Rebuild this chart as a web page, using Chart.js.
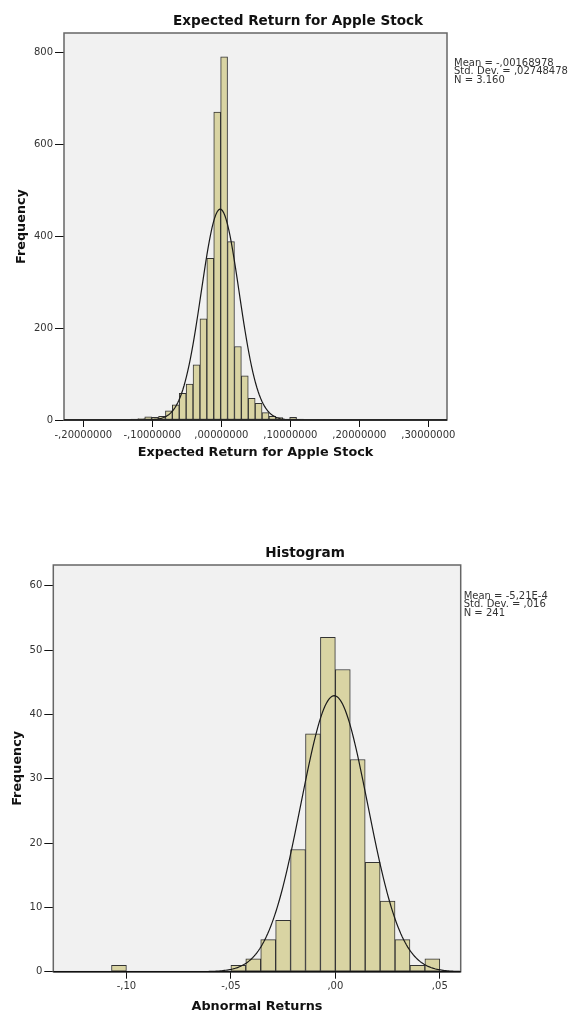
<!DOCTYPE html>
<html>
<head>
<meta charset="utf-8">
<script src="https://cdn.jsdelivr.net/npm/chart.js@4.4.1/dist/chart.umd.min.js"></script>
<style>
  html, body { margin: 0; padding: 0; background: #fff; }
  .wrap { position: absolute; left: 0; width: 568px; }
  #top-wrap { top: 0; height: 470px; }
  #bottom-wrap { top: 535px; height: 478px; }
</style>
</head>
<body>
<div class="wrap" id="top-wrap"><canvas id="apple" width="568" height="470"></canvas></div>
<div class="wrap" id="bottom-wrap"><canvas id="abnormal" width="568" height="478"></canvas></div>
<script>
// Expected Return for Apple Stock (bins of ,01)
const appleBins = [
  -0.156, -0.146, -0.136, -0.126, -0.116, -0.106, -0.096, -0.086, -0.076, -0.066,
  -0.056, -0.046, -0.036, -0.026, -0.016, -0.006, 0.004, 0.014, 0.024, 0.034,
  0.044, 0.054, 0.064, 0.074, 0.084, 0.094, 0.104, 0.114, 0.124, 0.134,
  0.144, 0.154, 0.164, 0.174, 0.184, 0.194, 0.204, 0.214, 0.224, 0.234, 0.244
]
const appleCounts = [
  1, 0, 1, 2, 3, 7, 6, 8, 20, 33,
  58, 78, 120, 220, 352, 670, 790, 388, 160, 96,
  47, 36, 16, 8, 5, 2, 6, 2, 0, 0,
  1, 1, 0, 0, 1, 0, 0, 0, 0, 0, 1
]
const appleTicksX = [-0.2, -0.1, 0, 0.1, 0.2, 0.3]
const appleTickLabelsX = ["-,20000000", "-,10000000", ",00000000", ",10000000", ",20000000", ",30000000"]
const appleTicksY = [0, 200, 400, 600, 800]
const appleStats = ["Mean = -,00168978", "Std. Dev. = ,02748478", "N = 3.160"]
const appleFit = { mean: -0.00168978, sd: 0.02748478, n: 3160, binWidth: 0.01 }

// Abnormal Returns (bins of ,05/7)
const abnormalBins = [
  -0.10357, -0.09643, -0.08929, -0.08214, -0.07500, -0.06786, -0.06071, -0.05357,
  -0.04643, -0.03929, -0.03214, -0.02500, -0.01786, -0.01071, -0.00357,
  0.00357, 0.01071, 0.01786, 0.02500, 0.03214, 0.03929, 0.04643
]
const abnormalCounts = [
  1, 0, 0, 0, 0, 0, 0, 0,
  1, 2, 5, 8, 19, 37, 52,
  47, 33, 17, 11, 5, 1, 2
]
const abnormalTicksX = [-0.10, -0.05, 0, 0.05]
const abnormalTickLabelsX = ["-,10", "-,05", ",00", ",05"]
const abnormalTicksY = [0, 10, 20, 30, 40, 50, 60]
const abnormalStats = ["Mean = -5,21E-4", "Std. Dev. = ,016", "N = 241"]
const abnormalFit = { mean: -0.000521, sd: 0.016, n: 241, binWidth: 0.05 / 7 }

Chart.defaults.font.family = "'DejaVu Sans', sans-serif"

// normal curve that SPSS lays over the histogram
function normalCurve(fit, min, max) {
  const pts = []
  const steps = 300
  for (let i = 0; i <= steps; i++) {
    const x = min + (max - min) * i / steps
    const z = (x - fit.mean) / fit.sd
    pts.push({ x, y: fit.n * fit.binWidth * Math.exp(-z * z / 2) / (fit.sd * Math.sqrt(2 * Math.PI)) })
  }
  return pts
}

// plot background, frame, chart title and the stats box on the right
const spssDecor = {
  id: "spssDecor",
  beforeDraw(chart, args, opts) {
    const { ctx, chartArea: a } = chart
    ctx.save()
    ctx.fillStyle = "#f1f1f1"
    ctx.fillRect(a.left, a.top, a.right - a.left, a.bottom - a.top)
    ctx.restore()
  },
  afterDraw(chart, args, opts) {
    const { ctx, chartArea: a } = chart
    ctx.save()
    ctx.strokeStyle = "#666"
    ctx.lineWidth = 1.5
    ctx.strokeRect(a.left, a.top, a.right - a.left, a.bottom - a.top)
    ctx.strokeStyle = "#111"
    ctx.beginPath()
    ctx.moveTo(a.left, a.bottom)
    ctx.lineTo(a.right, a.bottom)
    ctx.stroke()

    ctx.fillStyle = "#111"
    ctx.font = "bold 13.6px 'DejaVu Sans'"
    ctx.textAlign = "center"
    ctx.textBaseline = "middle"
    ctx.fillText(opts.title, opts.titleX, opts.titleY)

    ctx.fillStyle = "#333"
    ctx.font = "10px 'DejaVu Sans'"
    ctx.textAlign = "left"
    opts.stats.forEach((line, i) => ctx.fillText(line, a.right + opts.statsDx, opts.statsY + i * 8.8))
    ctx.restore()
  }
}

function histogram(canvasId, h) {
  return new Chart(document.getElementById(canvasId), {
    type: "bar",
    data: {
      datasets: [
        {
          type: "line",
          data: normalCurve(h.fit, h.xMin, h.xMax),
          borderColor: "#1a1a1a",
          borderWidth: 1.2,
          pointRadius: 0,
          tension: 0,
          order: 1
        },
        {
          data: h.bins.map((x, i) => ({ x, y: h.counts[i] })),
          backgroundColor: "#d9d4a3",
          borderColor: "#333",
          borderWidth: 1,
          borderSkipped: false,
          barPercentage: 1,
          categoryPercentage: 1,
          order: 2
        }
      ]
    },
    options: {
      responsive: false,
      animation: false,
      devicePixelRatio: 1,
      layout: { padding: { top: h.top, right: h.right, left: 0, bottom: 0 } },
      plugins: {
        legend: { display: false },
        tooltip: { enabled: false },
        spssDecor: h.decor
      },
      scales: {
        x: {
          type: "linear",
          offset: false,
          min: h.xMin,
          max: h.xMax,
          afterBuildTicks: s => { s.ticks = h.ticksX.map(v => ({ value: v })) },
          afterFit: s => { s.height = h.xHeight },
          ticks: {
            callback: (v, i) => h.labelsX[i],
            autoSkip: false,
            maxRotation: 0,
            padding: 2,
            color: "#333",
            font: { size: 10 }
          },
          grid: { offset: false, drawOnChartArea: false, tickLength: 7, tickColor: "#111", color: "#111" },
          border: { display: false },
          title: {
            display: true,
            text: h.xTitle,
            color: "#111",
            font: { size: 12.8, weight: "bold", lineHeight: 1 },
            padding: { top: 0, bottom: h.xTitlePad }
          }
        },
        y: {
          min: 0,
          max: h.yMax,
          afterBuildTicks: s => { s.ticks = h.ticksY.map(v => ({ value: v })) },
          afterFit: s => { s.width = h.yWidth },
          ticks: { padding: 2, color: "#333", font: { size: 10 } },
          grid: { drawOnChartArea: false, tickLength: 9, tickColor: "#111", color: "#111" },
          border: { display: false },
          title: {
            display: true,
            text: "Frequency",
            color: "#111",
            font: { size: 12.8, weight: "bold", lineHeight: 1 },
            padding: { top: h.yTitlePad, bottom: 0 }
          }
        }
      }
    },
    plugins: [spssDecor]
  })
}

histogram("apple", {
  bins: appleBins, counts: appleCounts, fit: appleFit,
  xMin: -0.228, xMax: 0.327, yMax: 842,
  ticksX: appleTicksX, labelsX: appleTickLabelsX, ticksY: appleTicksY,
  xTitle: "Expected Return for Apple Stock",
  top: 33, right: 121, xHeight: 50, yWidth: 64, xTitlePad: 10.6, yTitlePad: 15.6,
  decor: { title: "Expected Return for Apple Stock", titleX: 298, titleY: 21, stats: appleStats, statsDx: 7, statsY: 63 }
})

histogram("abnormal", {
  bins: abnormalBins, counts: abnormalCounts, fit: abnormalFit,
  xMin: -0.135, xMax: 0.06, yMax: 63.25,
  ticksX: abnormalTicksX, labelsX: abnormalTickLabelsX, ticksY: abnormalTicksY,
  xTitle: "Abnormal Returns",
  top: 30, right: 107.3, xHeight: 41.3, yWidth: 53.3, xTitlePad: 0, yTitlePad: 11.6,
  decor: { title: "Histogram", titleX: 305, titleY: 18, stats: abnormalStats, statsDx: 3, statsY: 61 }
})
</script>
</body>
</html>
